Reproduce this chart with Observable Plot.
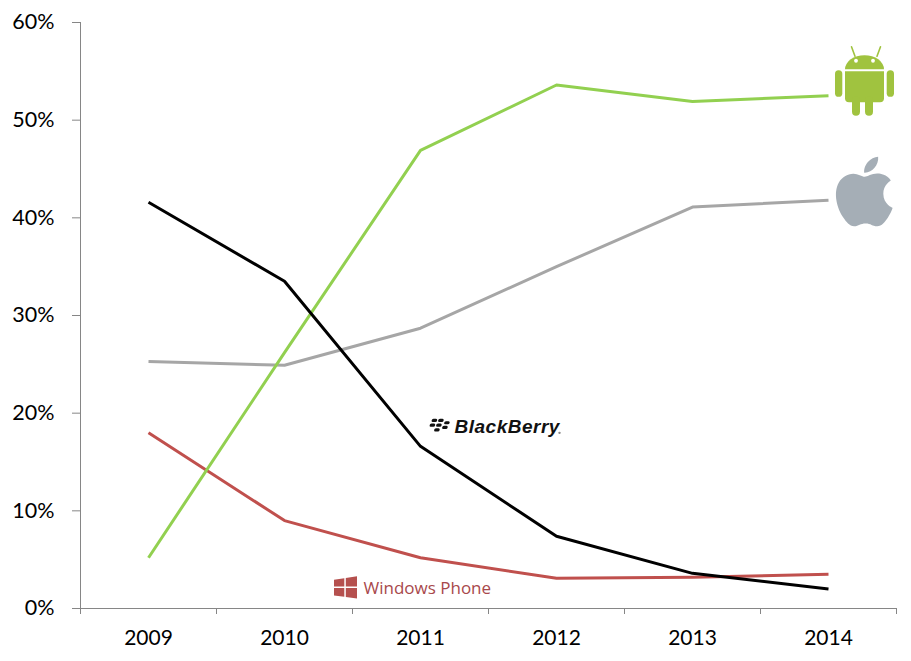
<!DOCTYPE html>
<html>
<head>
<meta charset="utf-8">
<script src="https://cdn.jsdelivr.net/npm/d3@7"></script>
<script src="https://cdn.jsdelivr.net/npm/@observablehq/plot@0.6"></script>
<style>
  html, body { margin: 0; padding: 0; background: #fff; }
  #chart svg { display: block; }
</style>
</head>
<body>
<div id="chart"></div>
<script>
// ---- data ----
const years = [2009, 2010, 2011, 2012, 2013, 2014];
const android    = [5.2, 26.2, 46.9, 53.6, 51.9, 52.5];
const apple      = [25.3, 24.9, 28.7, 35.0, 41.1, 41.8];
const blackberry = [41.6, 33.5, 16.6, 7.4, 3.6, 2.0];
const windows    = [18.0, 9.0, 5.2, 3.1, 3.2, 3.5];
const yTicks = [0, 10, 20, 30, 40, 50, 60];
const seriesNames = ["Windows Phone", "Apple", "Android", "BlackBerry"];
const seriesColors = ["#c0504d", "#a6a6a6", "#92d050", "#000000"];

const seriesValues = [windows, apple, android, blackberry];
const rows = [];
seriesNames.forEach((name, i) => {
  years.forEach((yr, j) => rows.push({series: name, year: yr, share: seriesValues[i][j]}));
});
const boundaries = [years[0] - 0.5, ...years.map(y => y + 0.5)];

const axisGray = "#868686";

const chart = Plot.plot({
  width: 911,
  height: 661,
  marginLeft: 80,
  marginRight: 15,
  marginTop: 22,
  marginBottom: 53,
  style: {fontFamily: "Lato, sans-serif", background: "#fff"},
  x: {type: "linear", domain: [boundaries[0], boundaries[boundaries.length - 1]]},
  y: {domain: [0, 60]},
  color: {domain: seriesNames, range: seriesColors},
  marks: [
    Plot.ruleY([0], {stroke: axisGray, strokeWidth: 1}),
    Plot.ruleX([boundaries[0]], {stroke: axisGray, strokeWidth: 1}),
    Plot.axisY({ticks: yTicks, tickSize: 8, tickPadding: 18, tickFormat: d => d + "%",
      stroke: axisGray, fill: "#000", fontSize: 21.5, label: null}),
    Plot.axisX({ticks: boundaries, tickSize: 6, tickFormat: () => "", stroke: axisGray, label: null}),
    Plot.axisX({ticks: years, tickSize: 0, tickPadding: 22, tickFormat: d => String(d),
      fill: "#000", fontSize: 21, label: null}),
    Plot.line(rows, {x: "year", y: "share", z: "series", stroke: "series", strokeWidth: 3,
      strokeLinejoin: "round", strokeLinecap: "butt"}),
    Plot.text(rows.filter(d => d.series === "BlackBerry" && d.year === 2011), {
      x: "year", y: "share", text: () => "BlackBerry", textAnchor: "start", lineAnchor: "middle",
      dx: 34, dy: -19, fontSize: 19, fontWeight: "bold", fontStyle: "italic",
      fontFamily: "Liberation Sans, Arial, sans-serif", fill: "#111"}),
    Plot.text(rows.filter(d => d.series === "Windows Phone" && d.year === 2011), {
      x: "year", y: "share", text: () => "Windows Phone", textAnchor: "start", lineAnchor: "middle",
      dx: -57, dy: 31, fontSize: 17, fontFamily: "Open Sans, sans-serif", fill: "#a8484b"})
  ]
});

// ---- logos, positioned through the chart's own scales ----
const sx = chart.scale("x"), sy = chart.scale("y");
const svg = d3.select(chart);
const last = years.length - 1;

svg.selectAll("text").filter(function () { return this.textContent === "BlackBerry"; })
  .attr("letter-spacing", "0.5");

// Android robot, next to the last Android point
{
  const px = sx.apply(years[last]), py = sy.apply(android[last]);
  const g = svg.append("g").attr("transform", `translate(${px + 36.5},${py - 9})`).attr("fill", "#a0c33f");
  g.append("path").attr("d", "M-19.5,-17 A19.5,14 0 0 1 19.5,-17 Z");
  g.append("path").attr("d", "M-19.5,-15 H19.5 V12 Q19.5,16 15.5,16 H-15.5 Q-19.5,16 -19.5,12 Z");
  g.append("rect").attr("x", -29.5).attr("y", -16).attr("width", 7.3).attr("height", 26.5).attr("rx", 3.6);
  g.append("rect").attr("x", 22.2).attr("y", -16).attr("width", 7.3).attr("height", 26.5).attr("rx", 3.6);
  g.append("rect").attr("x", -12.5).attr("y", 10).attr("width", 8).attr("height", 19.5).attr("rx", 4);
  g.append("rect").attr("x", 0.5).attr("y", 10).attr("width", 8).attr("height", 19.5).attr("rx", 4);
  g.append("line").attr("x1", -9.5).attr("y1", -30).attr("x2", -13).attr("y2", -39.5)
    .attr("stroke", "#a0c33f").attr("stroke-width", 1.6).attr("stroke-linecap", "round");
  g.append("line").attr("x1", 12.5).attr("y1", -30).attr("x2", 16).attr("y2", -39.5)
    .attr("stroke", "#a0c33f").attr("stroke-width", 1.6).attr("stroke-linecap", "round");
  g.append("circle").attr("cx", -8.5).attr("cy", -25.5).attr("r", 1.9).attr("fill", "#fff");
  g.append("circle").attr("cx", 8.5).attr("cy", -25.5).attr("r", 1.9).attr("fill", "#fff");
}

// Apple logo, next to the last Apple point
{
  const px = sx.apply(years[last]), py = sy.apply(apple[last]);
  svg.append("path")
    .attr("transform", `translate(${px + 1.5},${py - 43}) scale(2.9)`)
    .attr("fill", "#a5aeb6")
    .attr("d", "M12.152 6.896c-.948 0-2.415-1.078-3.96-1.040-2.04.027-3.91 1.183-4.961 3.014-2.117 3.675-.546 9.103 1.519 12.09 1.013 1.454 2.208 3.09 3.792 3.039 1.52-.065 2.09-.987 3.935-.987 1.831 0 2.35.987 3.96.948 1.637-.026 2.676-1.48 3.676-2.948 1.156-1.688 1.636-3.325 1.662-3.415-.039-.013-3.182-1.221-3.22-4.857-.026-3.04 2.48-4.494 2.597-4.559-1.429-2.09-3.623-2.324-4.39-2.376-2-.156-3.675 1.09-4.61 1.09zM15.53 3.83c.843-1.012 1.4-2.427 1.245-3.83-1.207.052-2.662.805-3.532 1.818-.78.896-1.454 2.338-1.273 3.714 1.338.104 2.715-.688 3.559-1.701");
}

// BlackBerry dots, before the BlackBerry word
{
  const px = sx.apply(years[2]), py = sy.apply(blackberry[2]);
  const g = svg.append("g").attr("transform", `translate(${px + 11},${py - 27})`).attr("fill", "#111");
  const pills = [[1, 0], [7.5, 0], [0, 4.7], [6.5, 4.7], [14, 2.3], [5.5, 9.4], [13, 7]];
  pills.forEach(([a, b]) => g.append("rect").attr("x", a).attr("y", b).attr("width", 5.5).attr("height", 3.2)
    .attr("rx", 1.5).attr("transform", "skewX(-12)"));
  g.append("circle").attr("cx", 128.5).attr("cy", 14).attr("r", 1.2).attr("fill", "#888");
}

// Windows flag, before the Windows Phone word
{
  const px = sx.apply(years[2]), py = sy.apply(windows[2]);
  const g = svg.append("g").attr("transform", `translate(${px - 86},${py + 19})`).attr("fill", "#b5504e");
  g.append("polygon").attr("points", "0,3.5 10.3,2 10.3,10.3 0,10.3");
  g.append("polygon").attr("points", "11.8,1.8 23,0 23,10.3 11.8,10.3");
  g.append("polygon").attr("points", "0,11.8 10.3,11.8 10.3,20.5 0,19.2");
  g.append("polygon").attr("points", "11.8,11.8 23,11.8 23,22.3 11.8,20.8");
}

document.getElementById("chart").appendChild(chart);
</script>
</body>
</html>
